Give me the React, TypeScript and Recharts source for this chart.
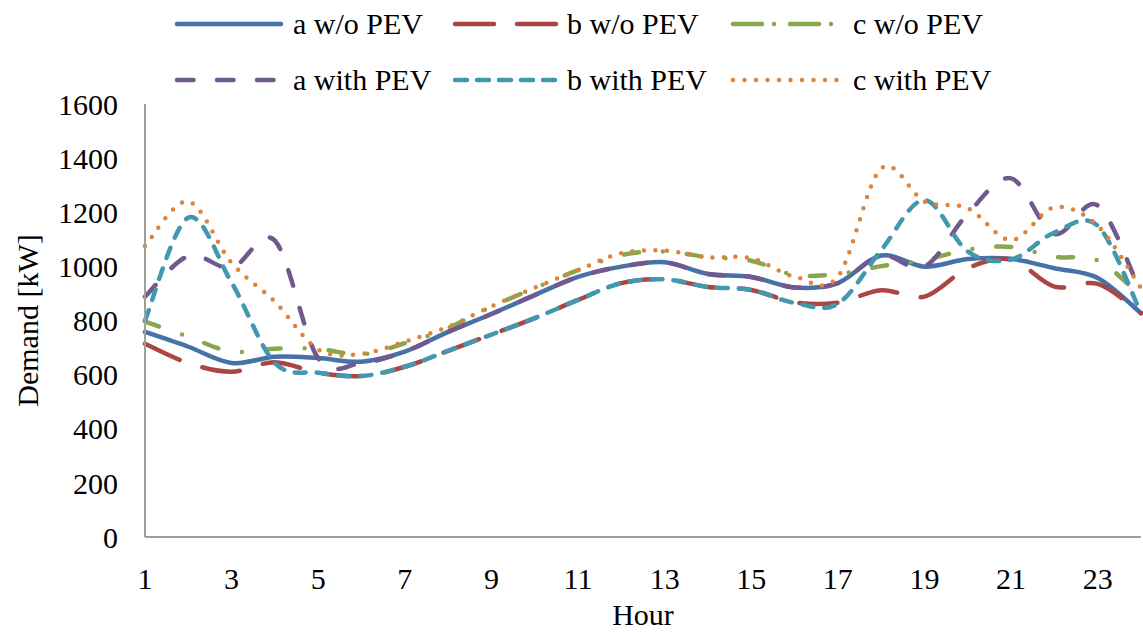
import React from 'react';
import { LineChart, Line, XAxis, YAxis, Legend } from 'recharts';

const hours = [1, 2, 3, 4, 5, 6, 7, 8, 9, 10, 11, 12, 13, 14, 15, 16, 17, 18, 19, 20, 21, 22, 23, 24];
const hourTicks = [1, 3, 5, 7, 9, 11, 13, 15, 17, 19, 21, 23];
const demandTicks = [0, 200, 400, 600, 800, 1000, 1200, 1400, 1600];

const aWithout = [758, 703, 643, 666, 661, 648, 685, 758, 824, 894, 961, 999, 1015, 972, 961, 922, 938, 1040, 999, 1027, 1028, 993, 957, 827];
const bWithout = [714, 643, 611, 646, 607, 595, 629, 688, 748, 809, 876, 938, 952, 924, 913, 867, 866, 912, 888, 993, 1025, 925, 935, 827];
const cWithout = [796, 740, 685, 696, 695, 675, 716, 772, 851, 920, 986, 1042, 1055, 1034, 1021, 968, 972, 1001, 1023, 1062, 1072, 1035, 1022, 890];
const aWith = [888, 1038, 995, 1095, 660, 643, 685, 758, 824, 894, 961, 999, 1015, 972, 961, 922, 938, 1040, 999, 1195, 1325, 1120, 1225, 900];
const bWith = [800, 1180, 940, 643, 607, 595, 629, 688, 748, 809, 876, 938, 952, 924, 913, 865, 862, 1060, 1245, 1055, 1025, 1125, 1150, 827];
const cWith = [1075, 1240, 1013, 869, 693, 677, 722, 777, 852, 921, 986, 1049, 1058, 1034, 1030, 962, 962, 1362, 1240, 1215, 1097, 1218, 1150, 920];

const seriesNames = ['a w/o PEV', 'b w/o PEV', 'c w/o PEV', 'a with PEV', 'b with PEV', 'c with PEV'];
const seriesValues = [aWithout, bWithout, cWithout, aWith, bWith, cWith];

const data = hours.map((hour, i) => {
  const row: Record<string, number> = { hour };
  seriesValues.forEach((vals, s) => {
    row['s' + s] = vals[i];
  });
  return row;
});

const FONT = '"Liberation Serif", "Times New Roman", serif';

// line looks, in series order
const looks = [
  { color: '#4572A7', dash: undefined, legendDash: undefined },
  { color: '#AA4643', dash: '38 24', legendDash: '39 23' },
  { color: '#89A54E', dash: '15 24 0 24', legendDash: '29 12 0 16' },
  { color: '#71588F', dash: '16 23', legendDash: '16.5 23.5' },
  { color: '#4198AF', dash: '11 11', legendDash: '12 10' },
  { color: '#DB843D', dash: '0 11.5', legendDash: '0 11.5' },
];

// Excel-like smoothed line (uniform Catmull-Rom through the points)
const excelCurve = (context: any) => {
  let pts: number[][] = [];
  return {
    areaStart() {},
    areaEnd() {},
    lineStart() {
      pts = [];
    },
    lineEnd() {
      if (!pts.length) return;
      context.moveTo(pts[0][0], pts[0][1]);
      for (let i = 0; i < pts.length - 1; i++) {
        const p0 = pts[i - 1] || pts[i];
        const p1 = pts[i];
        const p2 = pts[i + 1];
        const p3 = pts[i + 2] || p2;
        context.bezierCurveTo(
          p1[0] + (p2[0] - p0[0]) / 6,
          p1[1] + (p2[1] - p0[1]) / 6,
          p2[0] - (p3[0] - p1[0]) / 6,
          p2[1] - (p3[1] - p1[1]) / 6,
          p2[0],
          p2[1]
        );
      }
    },
    point(x: number, y: number) {
      pts.push([+x, +y]);
    },
  };
};

const swatchX = [177, 455, 733];
const textX = [293, 567, 853];
const rowY = [24, 80];

const TopLegend = () => (
  <div style={{ position: 'relative', width: 1143, height: 104, fontFamily: FONT }}>
    {seriesNames.map((name, i) => {
      const col = i % 3;
      const row = Math.floor(i / 3);
      const look = looks[i];
      return (
        <React.Fragment key={name}>
          <svg
            width={112}
            height={10}
            style={{ position: 'absolute', left: swatchX[col] - 3, top: rowY[row] - 5 }}
          >
            <line
              x1={3}
              y1={5}
              x2={107}
              y2={5}
              stroke={look.color}
              strokeWidth={4.5}
              strokeLinecap="round"
              strokeDasharray={look.legendDash}
            />
          </svg>
          <span
            style={{
              position: 'absolute',
              left: textX[col],
              top: rowY[row] - 17,
              fontSize: 30,
              lineHeight: '34px',
              color: '#000',
              whiteSpace: 'nowrap',
            }}
          >
            {name}
          </span>
        </React.Fragment>
      );
    })}
  </div>
);

const DemandLabel = (props: any) => {
  const vb = props.viewBox || { x: 0, y: 104, width: 145, height: 433 };
  const cx = vb.x + 27;
  const cy = vb.y + vb.height / 2;
  return (
    <text
      x={cx}
      y={cy}
      transform={`rotate(-90, ${cx}, ${cy})`}
      textAnchor="middle"
      dominantBaseline="central"
      fontFamily={FONT}
      fontSize={30}
      fill="#000"
    >
      Demand [kW]
    </text>
  );
};

export default function App() {
  return (
    <div style={{ position: 'absolute', left: 0, top: 0, width: 1143, height: 632, background: '#fff' }}>
      <LineChart
        width={1143}
        height={632}
        data={data}
        margin={{ top: 104, right: 2, bottom: 0, left: 0 }}
      >
        <XAxis
          dataKey="hour"
          type="number"
          domain={[1, 24]}
          ticks={hourTicks}
          interval={0}
          height={95}
          tickLine={false}
          tickSize={0}
          tickMargin={31}
          axisLine={{ stroke: '#9E9E9E', strokeWidth: 2 }}
          tick={{ fill: '#000', fontSize: 30, fontFamily: FONT }}
          label={{
            value: 'Hour',
            position: 'insideBottom',
            offset: 7,
            fill: '#000',
            fontSize: 30,
            fontFamily: FONT,
          }}
        />
        <YAxis
          type="number"
          domain={[0, 1600]}
          ticks={demandTicks}
          interval={0}
          width={145}
          tickLine={false}
          tickSize={0}
          tickMargin={27}
          axisLine={{ stroke: '#9E9E9E', strokeWidth: 2 }}
          tick={{ fill: '#000', fontSize: 30, fontFamily: FONT }}
          label={{ content: DemandLabel }}
        />
        <Legend
          layout="horizontal"
          verticalAlign="middle"
          align="center"
          wrapperStyle={{ top: 0, left: 0, width: 1143, height: 104 }}
          content={() => <TopLegend />}
        />
        {seriesNames.map((name, i) => (
          <Line
            key={name}
            name={name}
            dataKey={'s' + i}
            type={excelCurve as any}
            stroke={looks[i].color}
            strokeWidth={4.5}
            strokeLinecap="round"
            strokeDasharray={looks[i].dash}
            dot={false}
            activeDot={false}
            isAnimationActive={false}
          />
        ))}
      </LineChart>
    </div>
  );
}
